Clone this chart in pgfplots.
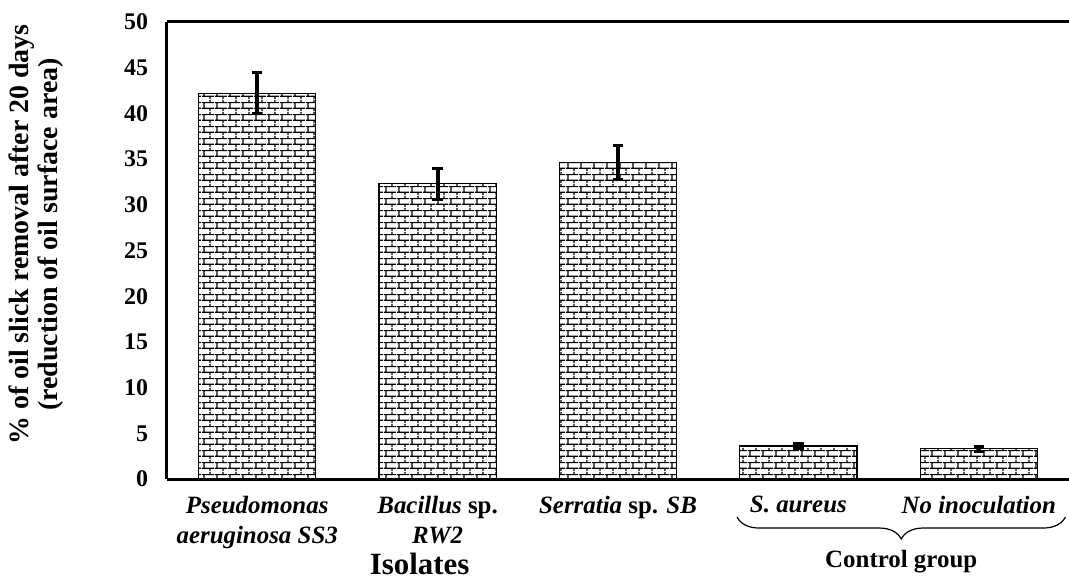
\documentclass[border=0pt]{standalone}
\usepackage{fontspec}
\setmainfont{Liberation Serif}
\usepackage{pgfplots}
\pgfplotsset{compat=1.18}
\usetikzlibrary{patterns,decorations.pathreplacing,calc}

\pgfdeclarepatternformonly{mybricks}{\pgfpointorigin}{\pgfpoint{6.3bp}{6bp}}{\pgfpoint{6.3bp}{6bp}}{%
  \pgfsetlinewidth{0.6bp}%
  \pgfpathmoveto{\pgfpoint{0bp}{1.5bp}}\pgfpathlineto{\pgfpoint{6.3bp}{1.5bp}}%
  \pgfpathmoveto{\pgfpoint{0bp}{4.5bp}}\pgfpathlineto{\pgfpoint{6.3bp}{4.5bp}}%
  \pgfpathmoveto{\pgfpoint{1bp}{1.5bp}}\pgfpathlineto{\pgfpoint{1bp}{4.5bp}}%
  \pgfpathmoveto{\pgfpoint{4.15bp}{4.5bp}}\pgfpathlineto{\pgfpoint{4.15bp}{6bp}}%
  \pgfpathmoveto{\pgfpoint{4.15bp}{0bp}}\pgfpathlineto{\pgfpoint{4.15bp}{1.5bp}}%
  \pgfusepath{stroke}%
}

\pgfplotstableread{
x y e
0 42.2 2.25
1 32.3 1.70
2 34.6 1.85
3 3.6 0.30
4 3.3 0.30
}\datatable

\begin{document}
\begin{tikzpicture}
\begin{axis}[
  name=ax,
  scale only axis, width=451bp, height=228.5bp,
  xmin=-0.5, xmax=4.5, ymin=0, ymax=50,
  ytick={0,5,...,50},
  xtick={0,1,2,3,4},
  xticklabels={
    {\textit{Pseudomonas}\\\textit{aeruginosa SS3}},
    {\textit{Bacillus} sp.\\\textit{RW2}},
    {\textit{Serratia} sp. \textit{SB}},
    {\textit{S. aureus}},
    {\textit{No inoculation}}},
  axis x line*=box, axis y line*=left,
  axis line style={line width=1.5bp,-},
  major tick length=0pt,
  /pgf/number format/assume math mode=true,
  yticklabel style={font=\fontsize{12}{14}\selectfont\bfseries, xshift=-6bp},
  xticklabel style={font=\fontsize{12.5}{15}\selectfont\bfseries, align=center, anchor=north, yshift=-5bp},
  ylabel={\% of oil slick removal after 20 days\\(reduction of oil surface area)},
  ylabel style={font=\fontsize{14}{14.5}\selectfont\bfseries, align=center, at={(axis description cs:-0.145,0.535)}, anchor=center},
  clip=false,
]
\addplot[ybar, bar width=0.65, fill=white, draw=black, line width=0.6bp,
  postaction={pattern=mybricks},
  error bars/.cd, y dir=both, y explicit,
  error bar style={line width=2bp, black},
  error mark options={rotate=90, mark size=2.6bp, line width=1.5bp, black}]
  table[x=x, y=y, y error=e]{\datatable};
\node[font=\fontsize{15.5}{17}\selectfont\bfseries, inner sep=0pt] at (axis description cs:0.28,-0.186) {Isolates};
\draw[decorate, decoration={brace, mirror, amplitude=11bp}, line width=0.6bp]
  (axis cs:2.66,-4.16) -- (axis cs:4.48,-4.16);
\node[font=\fontsize{12.5}{14}\selectfont\bfseries] at (axis cs:3.57,-9.0) {Control group};
\end{axis}
\pgfresetboundingbox
\path ($(ax.south west)+(-83.5bp,-50bp)$) rectangle ($(ax.north east)+(0,11bp)$);
\end{tikzpicture}
\end{document}
